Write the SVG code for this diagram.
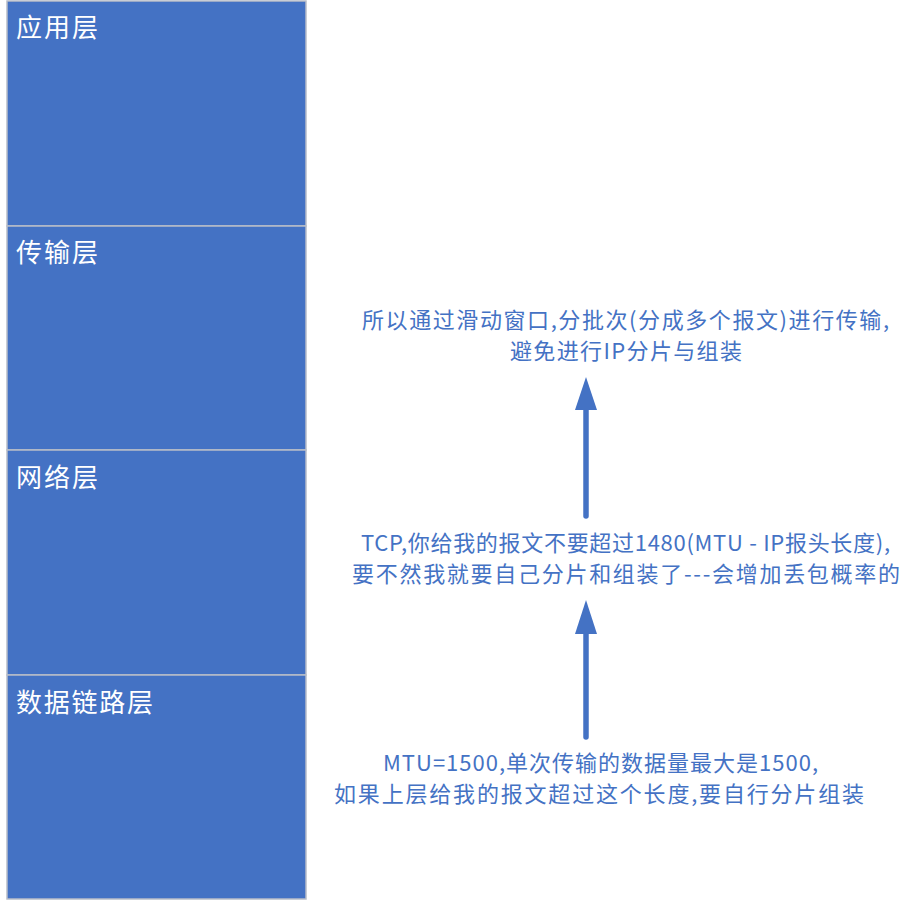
<svg xmlns="http://www.w3.org/2000/svg" width="913" height="901" viewBox="0 0 913 901">
<style>
.layer{fill:#4472C4;stroke:#B8BDC8;stroke-width:1.5}
.lbl{fill:#FFFFFF;font-family:"Noto Sans CJK SC","Noto Sans",sans-serif;font-size:26px}
.note{fill:#4472C4;font-family:"Noto Sans CJK SC","Noto Sans",sans-serif;font-size:22px}
.shaft{stroke:#4472C4;stroke-width:5.5;stroke-linecap:round;fill:none}
.head{fill:#4472C4}
</style>
<rect x="0" y="0" width="913" height="901" fill="#FFFFFF"/>
<g id="app-layer">
<rect class="layer" x="7" y="1" width="299" height="225"/>
<text class="lbl" x="16" y="37" textLength="82" lengthAdjust="spacing">应用层</text>
</g>
<g id="transport-layer">
<rect class="layer" x="7" y="226" width="299" height="224"/>
<text class="lbl" x="16" y="262" textLength="82" lengthAdjust="spacing">传输层</text>
</g>
<g id="network-layer">
<rect class="layer" x="7" y="450" width="299" height="225"/>
<text class="lbl" x="16" y="487" textLength="82" lengthAdjust="spacing">网络层</text>
</g>
<g id="datalink-layer">
<rect class="layer" x="7" y="675" width="299" height="224"/>
<text class="lbl" x="16" y="712" textLength="137" lengthAdjust="spacing">数据链路层</text>
</g>
<g id="note-top">
<text class="note" x="362" y="328" textLength="527" lengthAdjust="spacing">所以通过滑动窗口,分批次(分成多个报文)进行传输,</text>
<text class="note" x="510" y="359" textLength="232" lengthAdjust="spacing">避免进行IP分片与组装</text>
</g>
<g id="note-mid">
<text class="note" x="361" y="551" textLength="529" lengthAdjust="spacing">TCP,你给我的报文不要超过1480(MTU - IP报头长度),</text>
<text class="note" x="352" y="582" textLength="548" lengthAdjust="spacing">要不然我就要自己分片和组装了---会增加丢包概率的</text>
</g>
<g id="note-bottom">
<text class="note" x="383" y="771" textLength="435" lengthAdjust="spacing">MTU=1500,单次传输的数据量最大是1500,</text>
<text class="note" x="334" y="802" textLength="530" lengthAdjust="spacing">如果上层给我的报文超过这个长度,要自行分片组装</text>
</g>
<g id="connectors">
<line class="shaft" x1="586" y1="516" x2="586" y2="405"/>
<polygon class="head" points="586,377 575,410 597,410"/>
<line class="shaft" x1="586" y1="737" x2="586" y2="628"/>
<polygon class="head" points="586,600 575,634 597,634"/>
</g>
</svg>
